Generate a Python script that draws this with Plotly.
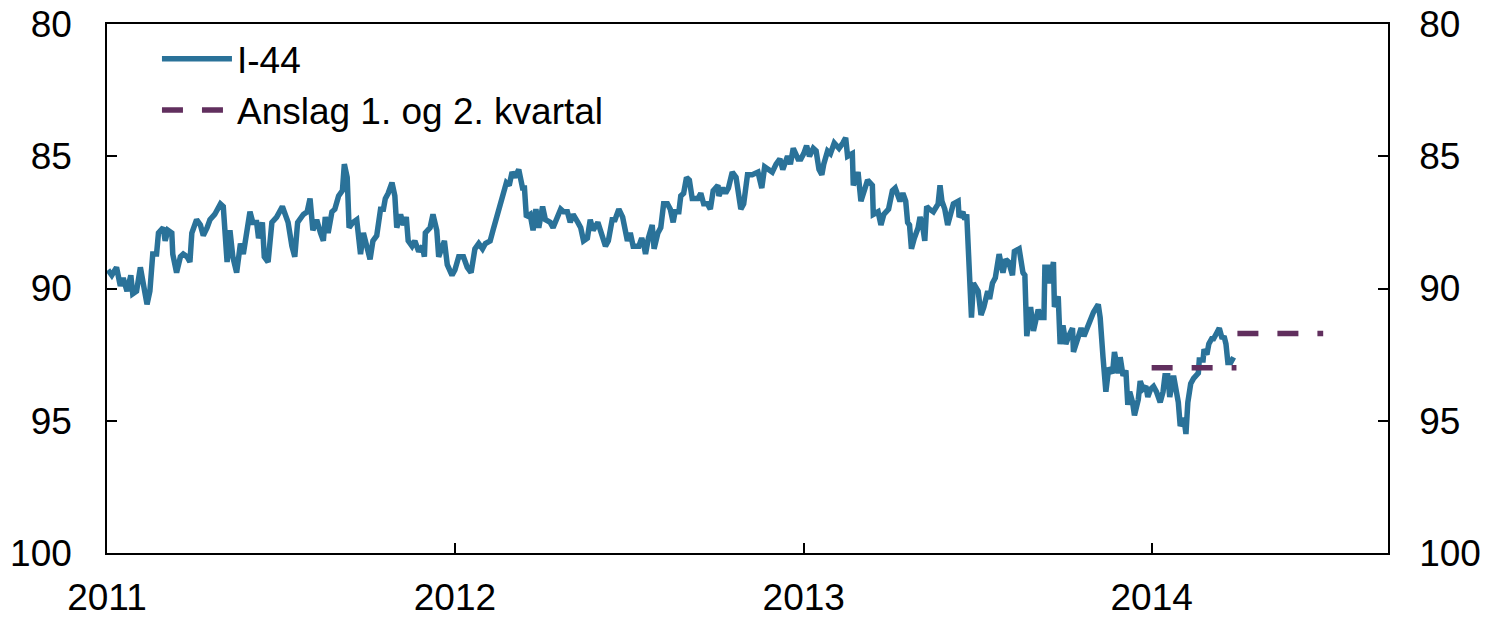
import pandas as pd
import plotly.graph_objects as go

# Days since 2011-01-01 for each observation of the I-44 index
i44_days = [1, 5, 10, 14, 17, 21, 25, 27, 31, 35, 38, 42, 45, 48, 52, 54, 59, 61, 64, 68,
            69, 73, 77, 80, 84, 87, 89, 94, 98, 101, 105, 108, 113, 119, 122, 126, 129, 132, 136, 140,
            143, 147, 150, 153, 157, 159, 163, 165, 169, 173, 178, 184, 187, 190, 194, 197, 200, 206, 210, 213,
            216, 220, 224, 227, 229, 232, 236, 239, 243, 247, 249, 252, 254, 258, 262, 266, 269, 273, 276, 279,
            283, 287, 290, 292, 295, 299, 302, 304, 308, 311, 314, 316, 320, 323, 327, 331, 333, 334, 339, 342,
            346, 348, 352, 354, 357, 362, 365, 369, 374, 378, 382, 386, 390, 394, 397, 402, 405, 410, 413, 416,
            419, 422, 425, 428, 432, 436, 438, 440, 444, 447, 450, 453, 457, 460, 465, 468, 473, 476, 479, 483,
            486, 489, 494, 497, 500, 504, 507, 510, 515, 518, 523, 526, 530, 533, 537, 541, 544, 546, 549, 552,
            558, 561, 563, 565, 568, 572, 574, 578, 581, 584, 588, 591, 594, 596, 600, 602, 605, 608, 611, 614,
            620, 623, 626, 630, 633, 636, 641, 642, 646, 649, 652, 656, 660, 665, 668, 672, 677, 683, 687, 690,
            694, 698, 702, 706, 709, 712, 714, 717, 720, 725, 728, 731, 734, 737, 741, 744, 747, 750, 752, 756,
            759, 763, 768, 772, 775, 777, 782, 783, 788, 791, 794, 798, 803, 804, 809, 812, 815, 820, 824, 827,
            832, 835, 838, 840, 842, 844, 847, 851, 853, 856, 858, 860, 863, 867, 872, 874, 876, 879, 882, 884,
            888, 893, 894, 898, 900, 902, 904, 907, 909, 914, 917, 920, 924, 926, 929, 932, 936, 940, 943, 946,
            950, 952, 957, 961, 963, 965, 969, 972, 977, 980, 983, 984, 987, 989, 993, 994, 998, 1000, 1003, 1006,
            1009, 1013, 1014, 1019, 1022, 1025, 1029, 1032, 1035, 1040, 1042, 1045, 1048, 1051, 1055, 1057, 1061, 1063, 1066, 1069,
            1071, 1073, 1076, 1078, 1082, 1084, 1087, 1090, 1092, 1095, 1098, 1101, 1105, 1108, 1110, 1113, 1115, 1119, 1121, 1124,
            1126, 1130, 1132, 1134, 1137, 1140, 1145, 1146, 1150, 1151, 1154, 1156, 1159, 1161, 1164, 1167, 1170, 1172, 1174, 1176,
            1179, 1182]

i44_values = [89.3, 89.5, 89.2, 89.9, 89.6, 90.1, 89.5, 90.2, 90.1, 89.2, 89.8, 90.6, 90.1, 88.7, 88.7, 87.9, 87.7, 88.2, 87.8, 87.9,
              88.7, 89.4, 88.8, 88.7, 88.8, 89.0, 87.9, 87.4, 87.6, 88.0, 87.7, 87.4, 87.2, 86.8, 86.9, 89.0, 87.8, 88.8, 89.4, 88.3,
              88.7, 87.7, 87.1, 87.5, 87.5, 88.1, 87.5, 88.8, 89.0, 87.5, 87.3, 86.9, 87.2, 87.5, 88.4, 88.8, 87.5, 87.2, 87.1, 86.6,
              87.8, 87.4, 87.9, 88.2, 87.3, 87.9, 87.1, 87.0, 86.5, 86.3, 85.3, 85.8, 87.7, 87.5, 87.4, 88.7, 87.9, 88.4, 88.9, 88.2,
              88.0, 87.0, 87.0, 86.6, 86.4, 86.0, 86.5, 87.7, 87.2, 87.6, 87.3, 88.2, 88.4, 88.2, 88.6, 88.4, 88.8, 87.9, 87.7, 87.2,
              87.8, 88.8, 88.4, 88.2, 89.1, 89.5, 89.3, 88.8, 88.8, 89.2, 89.4, 88.5, 88.3, 88.5, 88.3, 88.2, 87.8, 87.2, 86.7, 86.4,
              86.0, 86.1, 85.6, 85.8, 85.5, 86.2, 86.2, 87.3, 87.2, 87.8, 87.0, 87.7, 86.9, 87.4, 87.5, 87.7, 87.3, 87.0, 87.1, 87.1,
              87.5, 87.2, 87.5, 87.7, 88.2, 88.1, 87.4, 87.8, 87.5, 87.9, 88.4, 88.2, 87.4, 87.4, 87.0, 87.3, 87.9, 88.2, 87.9, 88.4,
              88.4, 88.1, 88.3, 88.7, 88.1, 87.6, 88.5, 87.9, 87.7, 86.8, 86.8, 87.0, 87.5, 87.1, 87.1, 86.5, 86.4, 85.8, 85.9, 86.6,
              86.6, 86.4, 86.8, 86.8, 87.0, 86.3, 86.1, 86.5, 86.2, 86.4, 86.2, 85.6, 85.8, 87.0, 86.8, 85.7, 85.7, 85.6, 86.2, 85.4,
              85.5, 85.6, 85.3, 85.1, 85.5, 85.1, 85.0, 85.3, 84.7, 85.1, 85.1, 84.9, 84.6, 85.0, 84.7, 84.8, 85.5, 85.7, 85.3, 84.8,
              84.9, 84.5, 84.7, 84.5, 84.3, 85.0, 84.9, 86.1, 85.6, 86.7, 86.4, 85.9, 86.1, 87.2, 87.1, 87.6, 87.2, 87.0, 86.3, 86.2,
              86.7, 86.4, 86.7, 87.5, 87.6, 88.5, 88.1, 87.7, 87.3, 87.7, 88.2, 86.9, 87.0, 87.1, 86.8, 86.1, 86.7, 87.0, 87.6, 87.3,
              86.8, 86.7, 87.3, 87.1, 87.4, 87.2, 89.3, 91.1, 89.8, 90.1, 91.0, 90.7, 90.1, 90.4, 89.8, 89.6, 88.7, 89.4, 88.9, 89.0,
              89.5, 88.6, 88.5, 89.4, 89.5, 91.8, 90.7, 91.6, 90.8, 91.1, 91.1, 89.2, 89.2, 89.8, 89.0, 90.7, 90.3, 92.1, 91.4, 92.1,
              91.8, 91.5, 92.4, 91.8, 91.5, 91.8, 91.4, 91.1, 90.9, 90.6, 91.1, 92.6, 93.9, 93.0, 93.2, 92.4, 93.2, 92.6, 93.3, 93.1,
              94.4, 93.9, 94.3, 94.8, 94.2, 93.5, 93.8, 93.7, 94.1, 93.8, 93.7, 93.9, 94.3, 93.9, 93.3, 93.3, 94.1, 93.3, 93.8, 94.3,
              95.2, 94.9, 95.5, 94.3, 93.6, 93.4, 93.2, 92.7, 92.7, 92.3, 92.5, 92.1, 91.9, 91.9, 91.7, 91.5, 91.9, 91.8, 92.1, 92.8,
              92.8, 92.6]

# Forecast for 1st and 2nd quarter 2014
anslag_dates = ["2014-01-01", "2014-03-31", None, "2014-04-01", "2014-06-30"]
anslag_values = [93.0, 93.0, None, 91.7, 91.7]

tick_dates = ["2011-01-01", "2012-01-01", "2013-01-01", "2014-01-01"]
tick_labels = ["2011", "2012", "2013", "2014"]
y_ticks = [80, 85, 90, 95, 100]

base = pd.Timestamp("2011-01-01")
i44_dates = base + pd.to_timedelta(i44_days, unit="D")

FONT = "Liberation Sans, Arial, sans-serif"
FS = 37
BLUE = "#2a7299"
PURPLE = "#612f5e"

fig = go.Figure()
fig.add_trace(go.Scatter(x=i44_dates, y=i44_values, mode="lines", name="I-44",
                         line=dict(color=BLUE, width=5.5)))
fig.add_trace(go.Scatter(x=anslag_dates, y=anslag_values, mode="lines",
                         name="Anslag 1. og 2. kvartal", connectgaps=False,
                         line=dict(color=PURPLE, width=5.5, dash="21px,19px")))
# invisible trace to drive the right-hand axis
fig.add_trace(go.Scatter(x=[base], y=[90], yaxis="y2", mode="lines",
                         showlegend=False, hoverinfo="skip",
                         line=dict(color="rgba(0,0,0,0)")))

common_y = dict(range=[100, 80], tickvals=y_ticks, ticktext=[str(v) for v in y_ticks],
                ticks="inside", ticklen=10, tickwidth=1.5, tickcolor="black",
                showline=True, linecolor="black", linewidth=1.5,
                showgrid=False, zeroline=False, automargin=False,
                tickfont=dict(family=FONT, size=FS, color="black"))

fig.update_layout(
    width=1491, height=618,
    margin=dict(l=107, r=103, t=24, b=65, autoexpand=False),
    paper_bgcolor="white", plot_bgcolor="white",
    font=dict(family=FONT, size=FS, color="black"),
    showlegend=True,
    legend=dict(x=0.039, y=0.992, xanchor="left", yanchor="top",
                bgcolor="rgba(0,0,0,0)", borderwidth=0,
                font=dict(family=FONT, size=FS, color="black"),
                itemwidth=70, tracegroupgap=0),
    xaxis=dict(type="date", range=["2011-01-01", "2014-09-06"],
               tickvals=tick_dates, ticktext=tick_labels,
               ticks="inside", ticklen=10, tickwidth=1.5, tickcolor="black",
               showline=True, linecolor="black", linewidth=2, mirror=True,
               showgrid=False, zeroline=False, automargin=False,
               tickfont=dict(family=FONT, size=FS, color="black"),
               ticklabelstandoff=11),
    yaxis=dict(side="left", mirror=False, ticklabelstandoff=26, **common_y),
    yaxis2=dict(side="right", overlaying="y", ticklabelstandoff=22, **common_y),
)

fig.write_html("out.html",
               config={"displayModeBar": False},
               post_script="document.body.style.margin='0px';"
                           "document.body.style.overflow='hidden';")
